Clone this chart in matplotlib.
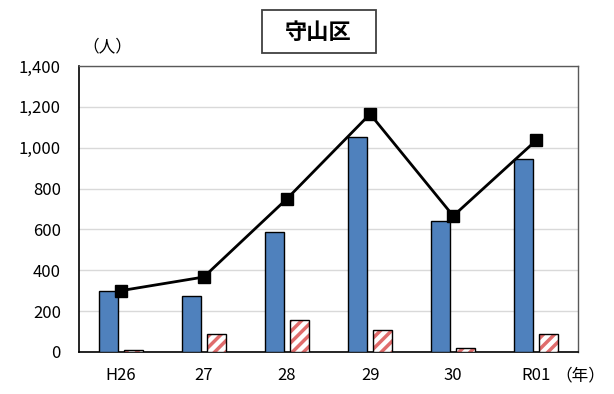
import matplotlib
matplotlib.use("Agg")
import matplotlib.pyplot as plt
from matplotlib.patches import Rectangle
import numpy as np

plt.rcParams['font.family'] = ['Noto Sans CJK JP', 'DejaVu Sans']
plt.rcParams['hatch.linewidth'] = 2.5

categories = ["H26", "27", "28", "29", "30", "R01"]
blue_vals = [297, 274, 588, 1054, 642, 946]
hatch_vals = [8, 88, 157, 108, 20, 88]
line_vals = [300, 367, 750, 1165, 666, 1037]
yticks = [0, 200, 400, 600, 800, 1000, 1200, 1400]
ytick_labels = ["0", "200", "400", "600", "800", "1,000", "1,200", "1,400"]

fig = plt.figure(figsize=(6.14, 3.94), dpi=100)
ax = fig.add_axes([79/614, 1-352/394, (578-79)/614, (352-66)/394])

x = np.arange(len(categories))
w = 0.228
off = 0.15
ax.bar(x - off, blue_vals, width=w, color="#4F81BD", edgecolor="black", linewidth=1.0, zorder=3)
ax.bar(x + off, hatch_vals, width=w, color="white", edgecolor="#E06C6C", hatch="///", linewidth=0, zorder=3)
ax.bar(x + off, hatch_vals, width=w, fill=False, edgecolor="black", linewidth=1.0, zorder=4)
ax.plot(x, line_vals, color="black", linewidth=2, marker="s", markersize=8, zorder=5)

ax.set_xlim(-0.5, len(categories) - 0.5)
ax.set_ylim(0, 1400)
ax.set_yticks(yticks)
ax.set_yticklabels(ytick_labels, fontsize=12)
ax.set_xticks(x)
ax.set_xticklabels(categories, fontsize=12)
ax.tick_params(axis='y', length=0, pad=13)
ax.tick_params(axis='x', length=0, pad=11)
ax.grid(axis='y', color="#D9D9D9", linewidth=1, zorder=0)
ax.set_axisbelow(True)
for s in ['top', 'right']:
    ax.spines[s].set_color("#595959")
    ax.spines[s].set_linewidth(1)
for s in ['left', 'bottom']:
    ax.spines[s].set_color("black")
    ax.spines[s].set_linewidth(1.2)

fig.patches.append(Rectangle((262/614, 1-53/394), 114/614, 43/394, transform=fig.transFigure,
                             facecolor='white', edgecolor='#404040', linewidth=1.3))
fig.text(318/614, 1-32/394, "守山区", ha='center', va='center', fontsize=16, fontweight='bold')
fig.text(107/614, 1-47/394, "（人）", ha='center', va='center', fontsize=12)
fig.text(580/614, 1-376/394, "（年）", ha='center', va='center', fontsize=12)

fig.savefig("out.png", dpi=100)
